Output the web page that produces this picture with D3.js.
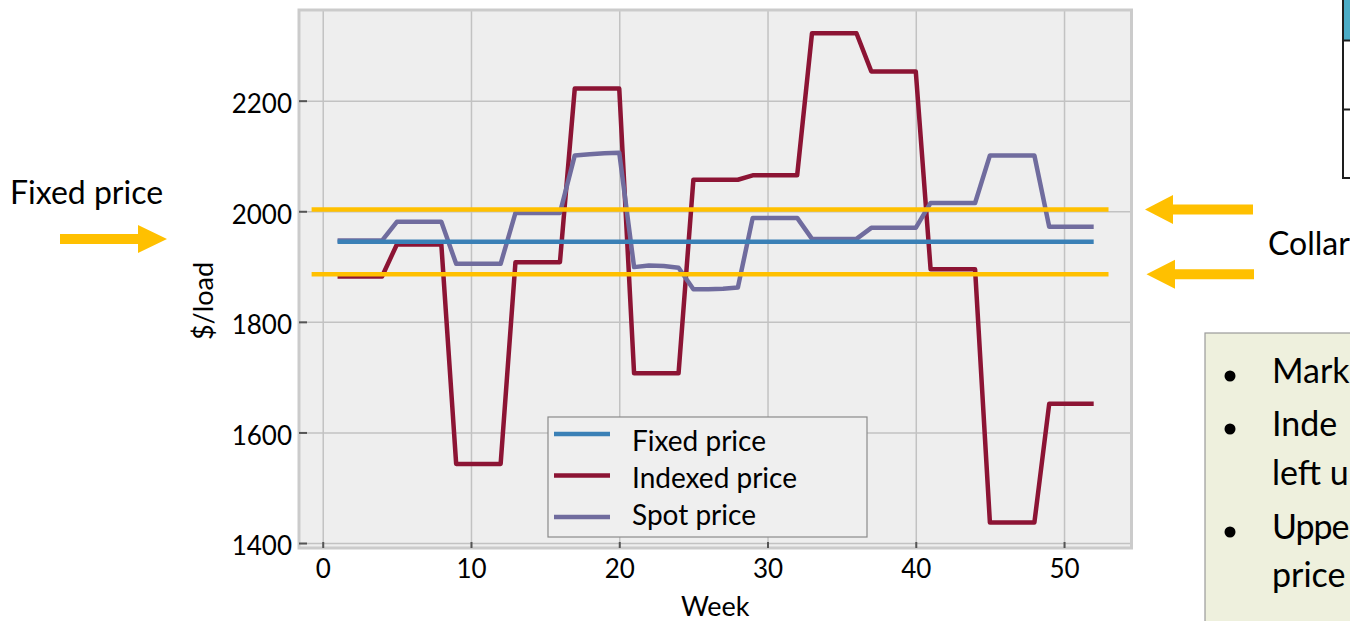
<!DOCTYPE html>
<html>
<head>
<meta charset="utf-8">
<script src="https://cdn.jsdelivr.net/npm/d3@7"></script>
<style>
  html, body { margin: 0; padding: 0; background: #ffffff; }
  svg { display: block; }
  text { font-family: Lato, "Open Sans", sans-serif; fill: #000; }
</style>
</head>
<body>
<svg id="chart" width="1350" height="621"></svg>
<script>
// Weekly prices, $/load
const weeks = [1, 2, 3, 4, 5, 6, 7, 8, 9, 10, 11, 12, 13, 14, 15, 16, 17, 18, 19, 20, 21, 22, 23, 24, 25, 26,
               27, 28, 29, 30, 31, 32, 33, 34, 35, 36, 37, 38, 39, 40, 41, 42, 43, 44, 45, 46, 47, 48, 49, 50, 51, 52];

const fixedPrice = [1945, 1945, 1945, 1945, 1945, 1945, 1945, 1945, 1945, 1945, 1945, 1945, 1945,
                    1945, 1945, 1945, 1945, 1945, 1945, 1945, 1945, 1945, 1945, 1945, 1945, 1945,
                    1945, 1945, 1945, 1945, 1945, 1945, 1945, 1945, 1945, 1945, 1945, 1945, 1945,
                    1945, 1945, 1945, 1945, 1945, 1945, 1945, 1945, 1945, 1945, 1945, 1945, 1945];

const indexedPrice = [1882, 1882, 1882, 1882, 1940, 1940, 1940, 1940, 1543, 1543, 1543, 1543, 1908,
                      1908, 1908, 1908, 2222, 2222, 2222, 2222, 1707, 1707, 1707, 1707, 2057, 2057,
                      2057, 2057, 2065, 2065, 2065, 2065, 2322, 2322, 2322, 2322, 2253, 2253, 2253,
                      2253, 1895, 1895, 1895, 1895, 1437, 1437, 1437, 1437, 1652, 1652, 1652, 1652];

const spotPrice = [1947, 1947, 1947, 1947, 1981, 1981, 1981, 1981, 1905, 1905, 1905, 1905, 1997,
                   1997, 1997, 1997, 2101, 2103, 2105, 2106, 1899, 1902, 1901, 1898, 1859, 1859,
                   1860, 1862, 1988, 1988, 1988, 1988, 1950, 1950, 1950, 1950, 1970, 1970, 1970,
                   1970, 2015, 2015, 2015, 2015, 2101, 2101, 2101, 2101, 1972, 1972, 1972, 1972];

// Collar bounds (upper / lower)
const collarBounds = [2003, 1886];

const xTicks = [0, 10, 20, 30, 40, 50];
const yTicks = [1400, 1600, 1800, 2000, 2200];

const seriesNames = ["Fixed price", "Indexed price", "Spot price"];
const seriesColors = ["#3a80b6", "#8c1434", "#706c9e"];

const bulletLines = [
  { bullet: true,  text: "Mark" },
  { bullet: true,  text: "Inde" },
  { bullet: false, text: "left u" },
  { bullet: true,  text: "Uppe" },
  { bullet: false, text: "price" }
];

// ---- layout ----
const svg = d3.select("#chart");
const plot = { left: 299, right: 1131.5, top: 10, bottom: 548 };

const x = d3.scaleLinear().domain([-1.6, 54.55]).range([plot.left, plot.right]);
const y = d3.scaleLinear().domain([1391, 2364]).range([plot.bottom, plot.top]);

svg.append("rect").attr("width", 1350).attr("height", 621).attr("fill", "#ffffff");

// plot background
svg.append("rect")
  .attr("x", plot.left).attr("y", plot.top)
  .attr("width", plot.right - plot.left).attr("height", plot.bottom - plot.top)
  .attr("fill", "#eeeeee");

// grid
const grid = svg.append("g").attr("class", "grid");
grid.append("g")
  .attr("transform", `translate(0,${plot.bottom})`)
  .call(d3.axisBottom(x).tickValues(xTicks).tickSize(-(plot.bottom - plot.top)).tickFormat(""))
  .call(g => g.select(".domain").remove());
grid.append("g")
  .attr("transform", `translate(${plot.left},0)`)
  .call(d3.axisLeft(y).tickValues(yTicks).tickSize(-(plot.right - plot.left)).tickFormat(""))
  .call(g => g.select(".domain").remove());
grid.selectAll("line").attr("stroke", "#c2c2c2").attr("stroke-width", 1.5);

// frame
svg.append("rect")
  .attr("x", plot.left).attr("y", plot.top)
  .attr("width", plot.right - plot.left).attr("height", plot.bottom - plot.top)
  .attr("fill", "none").attr("stroke", "#cbcbcb").attr("stroke-width", 3);

// axes (inward ticks)
const xAxis = svg.append("g")
  .attr("transform", `translate(0,${plot.bottom})`)
  .call(d3.axisBottom(x).tickValues(xTicks).tickFormat(d3.format("d"))
    .tickSizeInner(-6).tickSizeOuter(0).tickPadding(11.5));
const yAxis = svg.append("g")
  .attr("transform", `translate(${plot.left},0)`)
  .call(d3.axisLeft(y).tickValues(yTicks).tickFormat(d3.format("d"))
    .tickSizeInner(-8).tickSizeOuter(0).tickPadding(7));
[xAxis, yAxis].forEach(a => {
  a.select(".domain").remove();
  a.selectAll(".tick line").attr("stroke", "#555").attr("stroke-width", 2);
  a.selectAll(".tick text").attr("font-size", 26).attr("font-family", "Lato").attr("fill", "#000");
});
yAxis.selectAll(".tick text").attr("dy", "0.46em");

// axis titles
svg.append("text")
  .attr("x", (plot.left + plot.right) / 2).attr("y", 616)
  .attr("text-anchor", "middle").attr("font-size", 27)
  .text("Week");
svg.append("text")
  .attr("transform", "translate(213,301) rotate(-90)")
  .attr("text-anchor", "middle").attr("font-size", 27)
  .text("$/load");

// price lines
const line = d3.line().x(d => x(d[0])).y(d => y(d[1]));
const seriesValues = [fixedPrice, indexedPrice, spotPrice];
const drawOrder = [1, 2, 0];
drawOrder.forEach(i => {
  svg.append("path")
    .datum(weeks.map((w, j) => [w, seriesValues[i][j]]))
    .attr("d", line)
    .attr("fill", "none")
    .attr("stroke", seriesColors[i])
    .attr("stroke-width", 4.5)
    .attr("stroke-linejoin", "round");
});

// legend
const legend = svg.append("g");
legend.append("rect")
  .attr("x", 548).attr("y", 417).attr("width", 319).attr("height", 120)
  .attr("fill", "#efefef").attr("stroke", "#8a8a8a").attr("stroke-width", 1.2);
const legendLineY = [434, 475.5, 517];
const legendTextY = [451, 488, 525];
seriesNames.forEach((name, i) => {
  legend.append("line")
    .attr("x1", 554).attr("x2", 610)
    .attr("y1", legendLineY[i]).attr("y2", legendLineY[i])
    .attr("stroke", seriesColors[i]).attr("stroke-width", 4.5);
  legend.append("text")
    .attr("x", 632).attr("y", legendTextY[i])
    .attr("font-size", 28)
    .text(name);
});

// collar bounds
const gold = "#ffc000";
collarBounds.forEach(v => {
  svg.append("line")
    .attr("x1", x(-0.75)).attr("x2", x(53))
    .attr("y1", y(v)).attr("y2", y(v))
    .attr("stroke", gold).attr("stroke-width", 4.5);
});

// arrows
function arrow(tipX, cy, headLen, headHalf, shaftLen, shaftHalf, dir) {
  // dir = 1 points right, -1 points left
  const bx = tipX - dir * headLen;
  const ex = bx - dir * shaftLen;
  const pts = [
    [tipX, cy], [bx, cy - headHalf], [bx, cy - shaftHalf], [ex, cy - shaftHalf],
    [ex, cy + shaftHalf], [bx, cy + shaftHalf], [bx, cy + headHalf]
  ];
  svg.append("path").attr("d", "M" + pts.join("L") + "Z").attr("fill", gold);
}
arrow(167, 239, 29, 14, 78, 5, 1);
arrow(1145, y(collarBounds[0]), 28, 14.5, 80, 5, -1);
arrow(1146.5, y(collarBounds[1]), 28.5, 14.5, 79, 5, -1);

// annotations
svg.append("text").attr("x", 10).attr("y", 204).attr("font-size", 32).text("Fixed price");
svg.append("text").attr("x", 1268).attr("y", 255).attr("font-size", 32).text("Collar");

// comment box
svg.append("rect")
  .attr("x", 1205).attr("y", 333).attr("width", 160).attr("height", 300)
  .attr("fill", "#eef0dd").attr("stroke", "#9a9a9a").attr("stroke-width", 1.2);
const bulletBase = [383, 436, 485, 539, 587];
bulletLines.forEach((b, i) => {
  if (b.bullet) {
    svg.append("circle").attr("cx", 1230).attr("cy", bulletBase[i] - 7).attr("r", 5.5).attr("fill", "#000");
  }
  svg.append("text").attr("x", 1272).attr("y", bulletBase[i]).attr("font-size", 34)
    .attr("letter-spacing", b.text === "Uppe" ? -1 : 0)
    .text(b.text);
});

// table corner
svg.append("rect").attr("x", 1343).attr("y", -2).attr("width", 10).attr("height", 42).attr("fill", "#4bacc6");
svg.append("path")
  .attr("d", "M1343,0V178H1352M1343,40.5H1352M1343,109.5H1352")
  .attr("fill", "none").attr("stroke", "#1e1e1e").attr("stroke-width", 2);
</script>
</body>
</html>
